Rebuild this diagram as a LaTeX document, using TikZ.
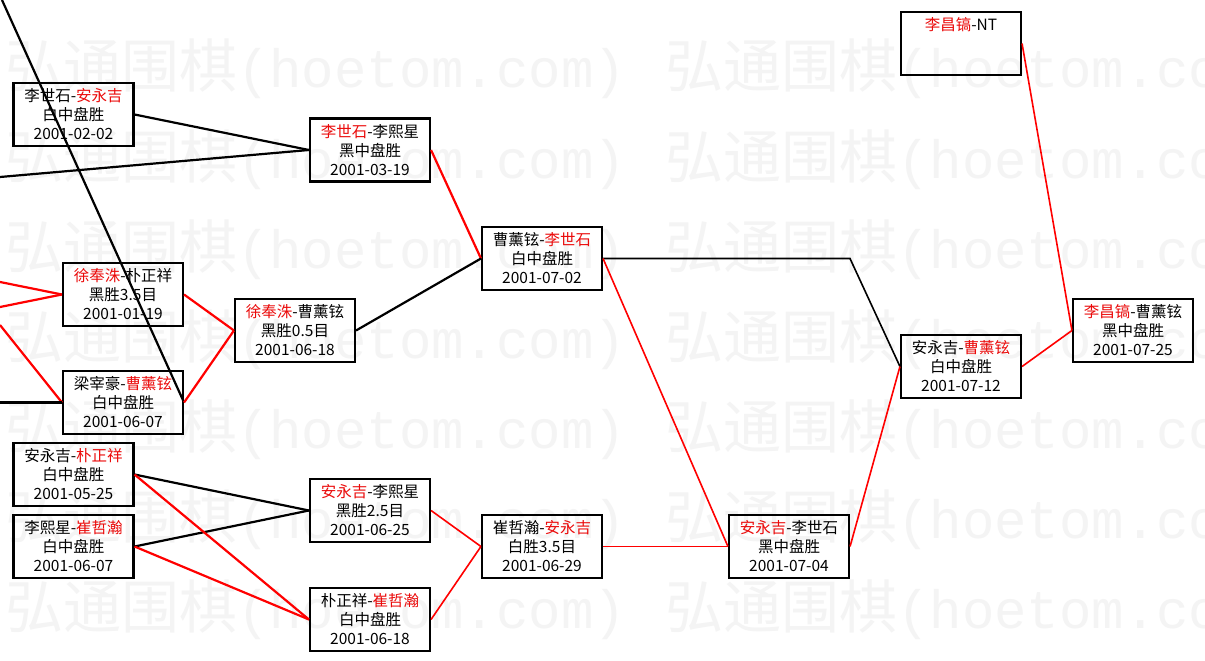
\documentclass[tikz,border=0pt]{standalone}
\usepackage{fontspec}
\setmainfont{Noto Sans CJK SC}
\newfontfamily\wmcjk{Noto Sans CJK SC}
\newfontfamily\wmmono{Liberation Mono}
\definecolor{wm}{gray}{0.955}
\definecolor{wred}{RGB}{235,10,10}
\newcommand\R[1]{\textcolor{wred}{#1}}
\newcommand\game[5]{%
  \node[gbox] (#1) at (#2) {};
  \node[gtext] (#1t) at ([yshift=-2.5pt]#1.center) {\strut #3\\\strut #4\\\strut #5};}
\begin{document}
\begin{tikzpicture}[x=1pt,y=-1pt,
  gbox/.style={draw, line width=2.1pt, minimum width=120pt, minimum height=63pt, inner sep=0pt},
  gtext/.style={align=center, inner sep=0pt, font=\fontsize{15.5}{19}\selectfont},
  wmark/.style={anchor=base west, inner sep=0pt, text=wm},
  conn/.style={line width=2.2pt},
  thinconn/.style={line width=1.6pt}
]
\useasboundingbox (0,0) rectangle (1205,661);
\fill[white] (0,0) rectangle (1205,661);

% watermark
\foreach \r in {0,...,6} {
  \foreach \c in {0,1} {
    \node[wmark] (wm\r\c) at ({5+660*\c},{88+90*\r}) {{\wmcjk\fontsize{58}{58}\selectfont 弘通围棋}{\wmmono\fontsize{54}{54}\selectfont (hoetom.com)}};
  }
}

% games
\game{A}{73.5,114.5}{李世石-\R{安永吉}}{白中盘胜}{2001-02-02}
\game{B}{370,150}{\R{李世石}-李熙星}{黑中盘胜}{2001-03-19}
\game{C}{123,294.5}{\R{徐奉洙}-朴正祥}{黑胜3.5目}{2001-01-19}
\game{D}{123,402.5}{梁宰豪-\R{曹薰铉}}{白中盘胜}{2001-06-07}
\game{E}{295,330.5}{\R{徐奉洙}-曹薰铉}{黑胜0.5目}{2001-06-18}
\game{F}{542,258.5}{曹薰铉-\R{李世石}}{白中盘胜}{2001-07-02}
\game{G}{73.5,474.5}{安永吉-\R{朴正祥}}{白中盘胜}{2001-05-25}
\game{H}{73.5,546.5}{李熙星-\R{崔哲瀚}}{白中盘胜}{2001-06-07}
\game{I}{370,510.5}{\R{安永吉}-李熙星}{黑胜2.5目}{2001-06-25}
\game{J}{370,619.5}{朴正祥-\R{崔哲瀚}}{白中盘胜}{2001-06-18}
\game{K}{542,546.5}{崔哲瀚-\R{安永吉}}{白胜3.5目}{2001-06-29}
\game{L}{789,546.5}{\R{安永吉}-李世石}{黑中盘胜}{2001-07-04}
\game{M}{961,366.5}{安永吉-\R{曹薰铉}}{白中盘胜}{2001-07-12}
\game{N}{1133,330.5}{\R{李昌镐}-曹薰铉}{黑中盘胜}{2001-07-25}
\game{O}{961,43.5}{\R{李昌镐}-NT}{}{}

% free ends
\coordinate (tl) at (2,0);
\coordinate (lB) at (0,177);
\coordinate (lC1) at (0,282);
\coordinate (lC2) at (0,307);
\coordinate (lD1) at (0,325);
\coordinate (lD2) at (0,402.5);
\coordinate (bend) at (850,258.5);

% connectors
\draw[conn] (tl) -- (D.east);
\draw[conn] (A.east) -- (B.west);
\draw[conn] (lB) -- (B.west);
\draw[conn,red] (B.east) -- (F.west);
\draw[conn] (E.east) -- (F.west);
\draw[conn,red] (lC1) -- (C.west);
\draw[conn,red] (lC2) -- (C.west);
\draw[conn,red] (lD1) -- (D.west);
\draw[conn] (lD2) -- (D.west);
\draw[conn,red] (C.east) -- (E.west);
\draw[conn,red] (D.east) -- (E.west);
\draw[conn] (G.east) -- (I.west);
\draw[conn] (H.east) -- (I.west);
\draw[conn,red] (G.east) -- (J.west);
\draw[conn,red] (H.east) -- (J.west);
\draw[thinconn,red] (I.east) -- (K.west);
\draw[thinconn,red] (J.east) -- (K.west);
\draw[thinconn] (F.east) -- (bend) -- (M.west);
\draw[thinconn,red] (F.east) -- (L.west);
\draw[thinconn,red] (K.east) -- (L.west);
\draw[thinconn,red] (L.east) -- (M.west);
\draw[thinconn,red] (M.east) -- (N.west);
\draw[thinconn,red] (O.east) -- (N.west);
\end{tikzpicture}
\end{document}
